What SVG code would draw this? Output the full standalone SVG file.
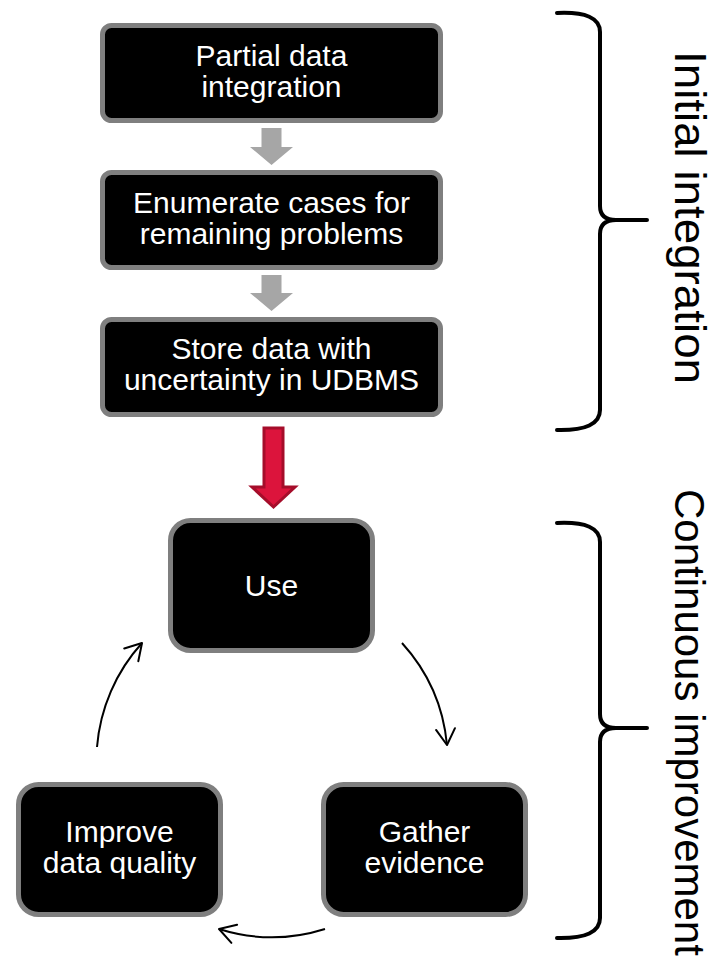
<svg xmlns="http://www.w3.org/2000/svg" width="720" height="965" viewBox="0 0 720 965">
  <style>
    .box { fill: #000000; stroke: #7f7f7f; stroke-width: 5; }
    .label { fill: #ffffff; font-family: "Liberation Sans", Arial, sans-serif; font-size: 30px; text-anchor: middle; }
    .side { fill: #000000; font-family: "Liberation Sans", Arial, sans-serif; font-size: 44px; }
    .step { fill: #a6a6a6; }
    .cycle { fill: none; stroke: #000000; stroke-width: 2; marker-end: url(#open); }
    .brace { fill: none; stroke: #000000; stroke-width: 4; stroke-linecap: round; stroke-linejoin: round; }
  </style>
  <defs>
    <marker id="open" markerUnits="userSpaceOnUse" markerWidth="30" markerHeight="30" viewBox="-20 -15 30 30" refX="0" refY="0" orient="auto">
      <path d="M -16 -9.5 L 0 0 L -16 9.5" fill="none" stroke="#000000" stroke-width="2" stroke-linecap="round" stroke-linejoin="round"/>
    </marker>
  </defs>

  <rect width="720" height="965" fill="#ffffff"/>

  <!-- initial integration steps -->
  <g id="partial">
    <rect class="box" x="102.5" y="25.5" width="338" height="95" rx="9"/>
    <text class="label" x="271.5" y="66">Partial data</text>
    <text class="label" x="271.5" y="97">integration</text>
  </g>
  <g id="enumerate">
    <rect class="box" x="102.5" y="172.5" width="338" height="95" rx="9"/>
    <text class="label" x="271.5" y="213">Enumerate cases for</text>
    <text class="label" x="271.5" y="244">remaining problems</text>
  </g>
  <g id="store">
    <rect class="box" x="102.5" y="319.5" width="338" height="95" rx="9"/>
    <text class="label" x="271.5" y="359">Store data with</text>
    <text class="label" x="271.5" y="390">uncertainty in UDBMS</text>
  </g>

  <!-- improvement cycle -->
  <g id="use">
    <rect class="box" x="170.5" y="520.5" width="202" height="130" rx="20"/>
    <text class="label" x="271.5" y="596">Use</text>
  </g>
  <g id="gather">
    <rect class="box" x="323.5" y="784.5" width="202" height="130" rx="20"/>
    <text class="label" x="424.5" y="842">Gather</text>
    <text class="label" x="424.5" y="873">evidence</text>
  </g>
  <g id="improve">
    <rect class="box" x="18.5" y="784.5" width="202" height="130" rx="20"/>
    <text class="label" x="119.5" y="842">Improve</text>
    <text class="label" x="119.5" y="873">data quality</text>
  </g>

  <g id="connectors">
    <polygon class="step" points="261.5,128 281.5,128 281.5,147 293,147 271.5,165 250,147 261.5,147"/>
    <polygon class="step" points="261.5,275 281.5,275 281.5,293 293,293 271.5,311 250,293 261.5,293"/>
    <polygon points="264,428 283,428 283,487 295,487 273.5,507 252,487 264,487" fill="#dc143c" stroke="#a50d2a" stroke-width="3" stroke-linejoin="miter"/>
    <path class="cycle" d="M 402 643 A 176 176 0 0 1 447 745"/>
    <path class="cycle" d="M 325 929 A 176 176 0 0 1 219 929"/>
    <path class="cycle" d="M 97 747 A 176 176 0 0 1 142 643"/>
  </g>

  <!-- phase brackets -->
  <g id="initial-integration">
    <path class="brace" d="M 557 13 Q 600 11 600 32 L 600 206 Q 600 220 616 220 L 647 220 M 616 220 Q 600 220 600 234 L 600 410 Q 600 431 557 430"/>
    <text class="side" transform="translate(675,51) rotate(90)" textLength="333" lengthAdjust="spacingAndGlyphs">Initial integration</text>
  </g>
  <g id="continuous-improvement">
    <path class="brace" d="M 557 523 Q 600 521 600 542 L 600 714 Q 600 728 616 728 L 647 728 M 616 728 Q 600 728 600 742 L 600 918 Q 600 939 557 938"/>
    <text class="side" transform="translate(675,489) rotate(90)" style="font-size:42px">Continuous improvement</text>
  </g>
</svg>
